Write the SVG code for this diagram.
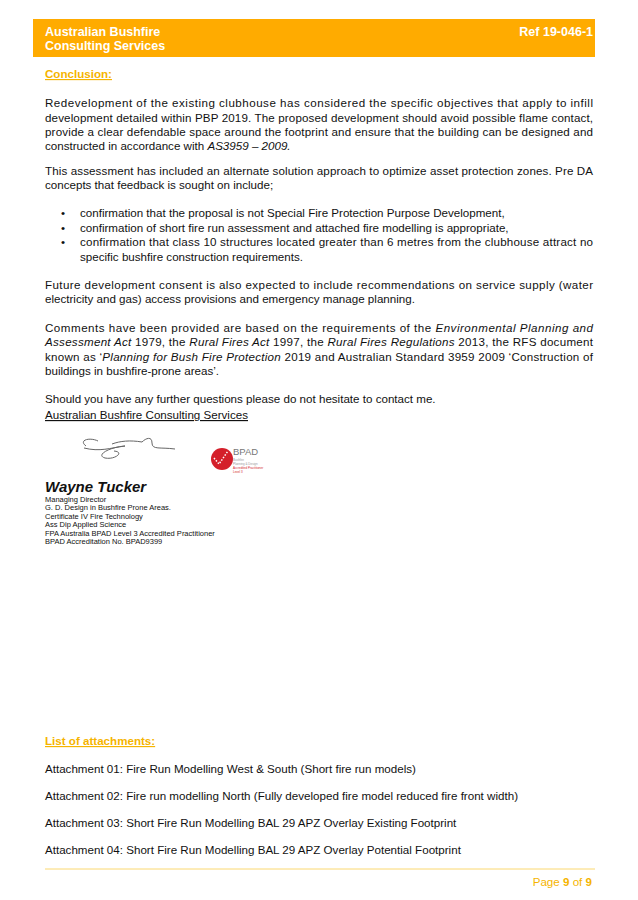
<svg xmlns="http://www.w3.org/2000/svg" width="638" height="900" viewBox="0 0 638 900">
<style>
text{font-family:"Liberation Sans",Arial,sans-serif;fill:#111;font-size:11.6px}
.h{fill:#fff;font-weight:bold;font-size:12.5px}
.o{fill:#f5b400;font-weight:bold;font-size:11.6px;text-decoration:underline}
.s{font-size:7.5px}
</style>
<rect width="638" height="900" fill="#fff"/>
<g id="header">
<rect x="33" y="19" width="562" height="38" fill="#ffab00"/>
<text class="h" x="45" y="36">Australian Bushfire</text>
<text class="h" x="45" y="50">Consulting Services</text>
<text class="h" x="593" y="36" text-anchor="end">Ref 19-046-1</text>
</g>
<g id="body">
<text class="o" x="45" y="78">Conclusion:</text>
<text x="45" y="107" textLength="548" lengthAdjust="spacing">Redevelopment of the existing clubhouse has considered the specific objectives that apply to infill</text>
<text x="45" y="122" textLength="548" lengthAdjust="spacing">development detailed within PBP 2019. The proposed development should avoid possible flame contact,</text>
<text x="45" y="136" textLength="548" lengthAdjust="spacing">provide a clear defendable space around the footprint and ensure that the building can be designed and</text>
<text x="45" y="150">constructed in accordance with <tspan font-style="italic">AS3959 – 2009.</tspan></text>
<text x="45" y="175" textLength="548" lengthAdjust="spacing">This assessment has included an alternate solution approach to optimize asset protection zones. Pre DA</text>
<text x="45" y="189">concepts that feedback is sought on include;</text>
<text x="61" y="217">•</text><text x="80" y="217">confirmation that the proposal is not Special Fire Protection Purpose Development,</text>
<text x="61" y="232">•</text><text x="80" y="232">confirmation of short fire run assessment and attached fire modelling is appropriate,</text>
<text x="61" y="246">•</text><text x="80" y="246" textLength="513" lengthAdjust="spacing">confirmation that class 10 structures located greater than 6 metres from the clubhouse attract no</text>
<text x="80" y="261">specific bushfire construction requirements.</text>
<text x="45" y="289" textLength="548" lengthAdjust="spacing">Future development consent is also expected to include recommendations on service supply (water</text>
<text x="45" y="303">electricity and gas) access provisions and emergency manage planning.</text>
<text x="45" y="332" textLength="548" lengthAdjust="spacing">Comments have been provided are based on the requirements of the <tspan font-style="italic">Environmental Planning and</tspan></text>
<text x="45" y="346" textLength="548" lengthAdjust="spacing"><tspan font-style="italic">Assessment Act</tspan> 1979, the <tspan font-style="italic">Rural Fires Act</tspan> 1997, the <tspan font-style="italic">Rural Fires Regulations</tspan> 2013, the RFS document</text>
<text x="45" y="361" textLength="548" lengthAdjust="spacing">known as ‘<tspan font-style="italic">Planning for Bush Fire Protection</tspan> 2019 and Australian Standard 3959 2009 ‘Construction of</text>
<text x="45" y="375">buildings in bushfire-prone areas’.</text>
<text x="45" y="403">Should you have any further questions please do not hesitate to contact me.</text>
<text x="45" y="419" text-decoration="underline">Australian Bushfire Consulting Services</text>
</g>
<g id="signature" fill="none" stroke="#666" stroke-width="1">
<path d="M86 446 C78 440 90 437 98 441 M84 448 C100 452 110 448 125 446 C110 447 95 455 105 458 C115 460 125 452 114 451 M112 444 C120 441 130 440 142 442 C146 438 152 436 152 443 C152 450 160 447 175 449"/>
</g>
<g id="logo">
<circle cx="222" cy="459" r="11" fill="#d41f2a"/>
<path d="M214 458 l5 6 l9 -13" fill="none" stroke="#fff" stroke-width="1.5" stroke-dasharray="1.5 1.5"/>
<text x="233" y="455" style="fill:#777;font-size:9.5px">BPAD</text>
<text x="233" y="461" style="fill:#999;font-size:3px">Bushfire</text>
<text x="233" y="465" style="fill:#999;font-size:3px">Planning &amp; Design</text>
<text x="233" y="469" style="fill:#d41f2a;font-size:3px">Accredited Practitioner</text>
<text x="233" y="473" style="fill:#d41f2a;font-size:3px">Level 3</text>
</g>
<g id="credentials">
<text x="45" y="492" style="font-size:15px;font-weight:bold;font-style:italic">Wayne Tucker</text>
<text class="s" x="45" y="502">Managing Director</text>
<text class="s" x="45" y="510">G. D. Design in Bushfire Prone Areas.</text>
<text class="s" x="45" y="519">Certificate IV Fire Technology</text>
<text class="s" x="45" y="527">Ass Dip Applied Science</text>
<text class="s" x="45" y="536">FPA Australia BPAD Level 3 Accredited Practitioner</text>
<text class="s" x="45" y="544">BPAD Accreditation No. BPAD9399</text>
</g>
<g id="attachments">
<text class="o" x="45" y="745">List of attachments:</text>
<text x="45" y="773">Attachment 01: Fire Run Modelling West &amp; South (Short fire run models)</text>
<text x="45" y="800">Attachment 02: Fire run modelling North (Fully developed fire model reduced fire front width)</text>
<text x="45" y="827">Attachment 03: Short Fire Run Modelling BAL 29 APZ Overlay Existing Footprint</text>
<text x="45" y="854">Attachment 04: Short Fire Run Modelling BAL 29 APZ Overlay Potential Footprint</text>
</g>
<g id="footer">
<line x1="45" y1="869" x2="595" y2="869" stroke="#fbd870" stroke-width="1"/>
<text x="592" y="886" text-anchor="end" style="fill:#f5b400;font-size:11.6px">Page <tspan style="font-weight:bold">9</tspan> of <tspan style="font-weight:bold">9</tspan></text>
</g>
</svg>
